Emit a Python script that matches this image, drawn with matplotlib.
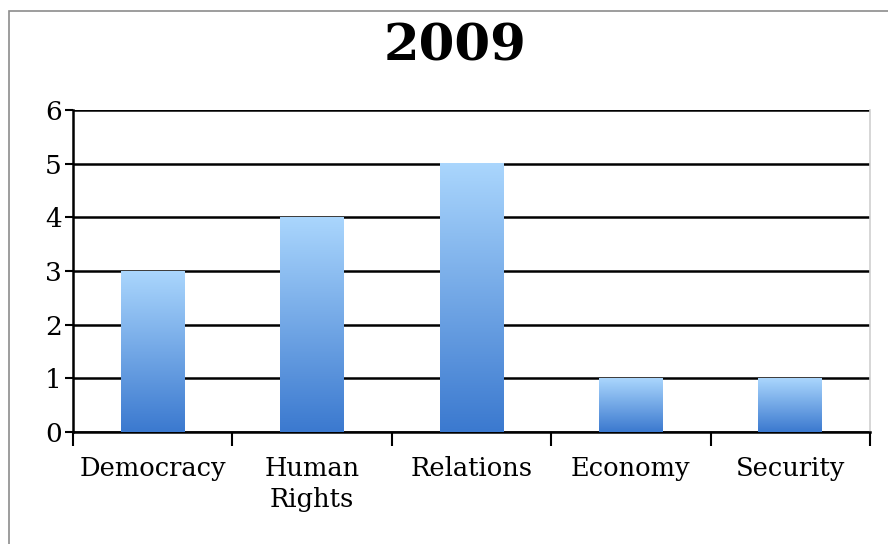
import numpy as np
import matplotlib.pyplot as plt
from matplotlib.colors import LinearSegmentedColormap
from matplotlib.patches import Rectangle

# chart data
title = '2009'
categories = ['Democracy', 'Human\nRights', 'Relations', 'Economy', 'Security']
counts = [3, 4, 5, 1, 1]
y_ticks = [0, 1, 2, 3, 4, 5, 6]

plt.rcParams['font.family'] = ['DejaVu Serif']

fig = plt.figure(figsize=(8.88, 5.44), dpi=100)
ax = fig.add_axes([73/888, 1 - 432/544, (870 - 73)/888, (432 - 110)/544])

# light grey chart border (runs off the right/bottom edge like the source)
fig.patches.append(Rectangle((9/888, -0.1), 1.0, 1 - 11/544 + 0.1, transform=fig.transFigure,
                             fill=False, edgecolor='#8c8c8c', linewidth=1.2, zorder=0))

x = np.arange(len(categories))
bars = ax.bar(x, counts, width=0.4, color='none', zorder=3)

# vertical gradient, light on top, darker at the base
cmap = LinearSegmentedColormap.from_list('blues', ['#3b79cf', '#aad6fd'])
grad = np.linspace(0, 1, 256).reshape(-1, 1)
for b in bars:
    x0, y0 = b.get_x(), b.get_y()
    ax.imshow(grad, cmap=cmap, origin='lower', aspect='auto', zorder=3,
              extent=[x0, x0 + b.get_width(), y0, y0 + b.get_height()])

ax.set_xlim(-0.5, len(categories) - 0.5)
ax.set_ylim(0, 6)

ax.set_yticks(y_ticks)
ax.yaxis.grid(True, color='black', linewidth=1.8, zorder=1)
ax.set_axisbelow(True)
ax.tick_params(axis='y', length=6, width=1.5, pad=2, labelsize=19, direction='out')

# ticks at category boundaries, labels centred between them
ax.set_xticks(np.arange(-0.5, len(categories), 1.0))
ax.set_xticklabels([])
ax.set_xticks(x, minor=True)
ax.set_xticklabels(categories, minor=True, fontsize=18.5, linespacing=1.3)
ax.tick_params(axis='x', which='major', length=10, width=1.5, direction='out')
ax.tick_params(axis='x', which='minor', length=0, pad=17)

for s in ['left', 'bottom']:
    ax.spines[s].set_linewidth(1.8)
    ax.spines[s].set_color('black')
ax.spines['top'].set_visible(False)
ax.spines['right'].set_color('#d0d0d0')
ax.spines['right'].set_linewidth(1.2)

fig.text(455/888, 1 - 47/544, title, ha='center', va='center', fontsize=37, fontweight='bold')

fig.savefig('out.png', dpi=100)
